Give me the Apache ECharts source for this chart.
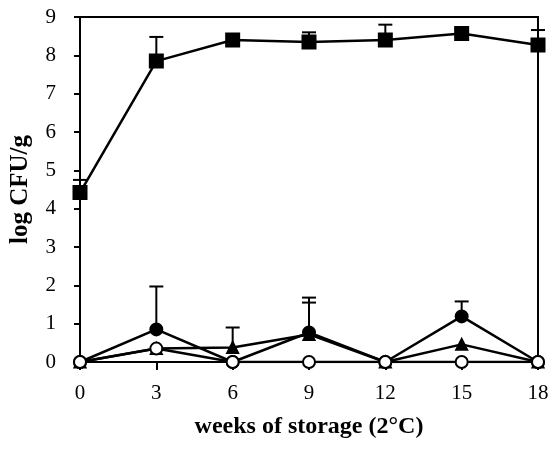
<!DOCTYPE html>
<html>
<head>
<meta charset="utf-8">
<script src="https://cdn.jsdelivr.net/npm/echarts@6/dist/echarts.min.js"></script>
<style>html,body{margin:0;padding:0;background:#fff;}#c{width:558px;height:462px;}</style>
</head>
<body>
<div id="c"></div>
<script>
var weeks = [0, 3, 6, 9, 12, 15, 18];
var squares = [4.42, 7.85, 8.4, 8.35, 8.4, 8.57, 8.27];
var squaresUpper = [4.75, 8.48, null, 8.6, 8.8, 8.7, 8.66];
var filledCircles = [0, 0.85, 0, 0.77, 0, 1.19, 0];
var filledCirclesUpper = [null, 1.97, null, 1.68, null, 1.58, null];
var triangles = [0, 0.35, 0.38, 0.72, 0, 0.46, 0];
var trianglesUpper = [null, null, 0.9, 1.55, null, null, null];
var openCircles = [0, 0.35, 0, 0, 0, 0, 0];
var yTicks = [0, 1, 2, 3, 4, 5, 6, 7, 8, 9];
var xTicks = [0, 3, 6, 9, 12, 15, 18];

var FONT = '"Liberation Serif", "Times New Roman", serif';

function pairs(vals) {
  return weeks.map(function (w, i) { return [w, vals[i]]; });
}
function errData(vals, upper) {
  var out = [];
  weeks.forEach(function (w, i) {
    if (upper[i] != null) out.push([w, vals[i], upper[i]]);
  });
  return out;
}
function errRender(params, api) {
  var x = api.value(0), lo = api.value(1), hi = api.value(2);
  var p1 = api.coord([x, lo]);
  var p2 = api.coord([x, hi]);
  var st = { stroke: '#000', lineWidth: 2 };
  return {
    type: 'group',
    children: [
      { type: 'line', shape: { x1: p1[0], y1: p1[1], x2: p2[0], y2: p2[1] }, style: st },
      { type: 'line', shape: { x1: p2[0] - 7, y1: p2[1], x2: p2[0] + 7, y2: p2[1] }, style: st }
    ]
  };
}
function lineSeries(vals, symbol, size, fill) {
  return {
    type: 'line',
    data: pairs(vals),
    symbol: symbol,
    symbolSize: size,
    showAllSymbol: true,
    lineStyle: { color: '#000', width: 2.5 },
    itemStyle: { color: fill, borderColor: '#000', borderWidth: 2 },
    animation: false,
    z: 3
  };
}

var chart = echarts.init(document.getElementById('c'), null, { renderer: 'canvas' });
chart.setOption({
  backgroundColor: '#fff',
  animation: false,
  grid: {
    left: 79, right: 20, top: 17, bottom: 100,
    show: true, borderColor: '#000', borderWidth: 2, backgroundColor: 'transparent'
  },
  xAxis: {
    type: 'value', min: xTicks[0], max: xTicks[xTicks.length - 1], interval: 3,
    name: 'weeks of storage (2\u00b0C)', nameLocation: 'middle', nameGap: 53,
    nameTextStyle: { fontFamily: FONT, fontSize: 24, fontWeight: 'bold', color: '#000' },
    axisLine: { show: true, lineStyle: { color: '#000', width: 2 } },
    axisTick: { show: true, inside: false, length: 8, lineStyle: { color: '#000', width: 2 } },
    axisLabel: { fontFamily: FONT, fontSize: 21, color: '#000', margin: 21 },
    splitLine: { show: false }
  },
  yAxis: {
    type: 'value', min: yTicks[0], max: yTicks[yTicks.length - 1], interval: 1,
    name: 'log CFU/g', nameLocation: 'middle', nameGap: 47,
    nameTextStyle: { fontFamily: FONT, fontSize: 25, fontWeight: 'bold', color: '#000' },
    axisLine: { show: true, lineStyle: { color: '#000', width: 2 } },
    axisTick: { show: true, inside: false, length: 6, lineStyle: { color: '#000', width: 2 } },
    axisLabel: { fontFamily: FONT, fontSize: 21, color: '#000', margin: 24 },
    splitLine: { show: false }
  },
  series: [
    { type: 'custom', renderItem: errRender, data: errData(squares, squaresUpper), z: 2, animation: false },
    { type: 'custom', renderItem: errRender, data: errData(filledCircles, filledCirclesUpper), z: 2, animation: false },
    { type: 'custom', renderItem: errRender, data: errData(triangles, trianglesUpper), z: 2, animation: false },
    lineSeries(squares, 'rect', 13, '#000'),
    lineSeries(filledCircles, 'circle', 12, '#000'),
    lineSeries(triangles, 'triangle', 11, '#000'),
    lineSeries(openCircles, 'circle', 12, '#fff')
  ]
});
</script>
</body>
</html>
